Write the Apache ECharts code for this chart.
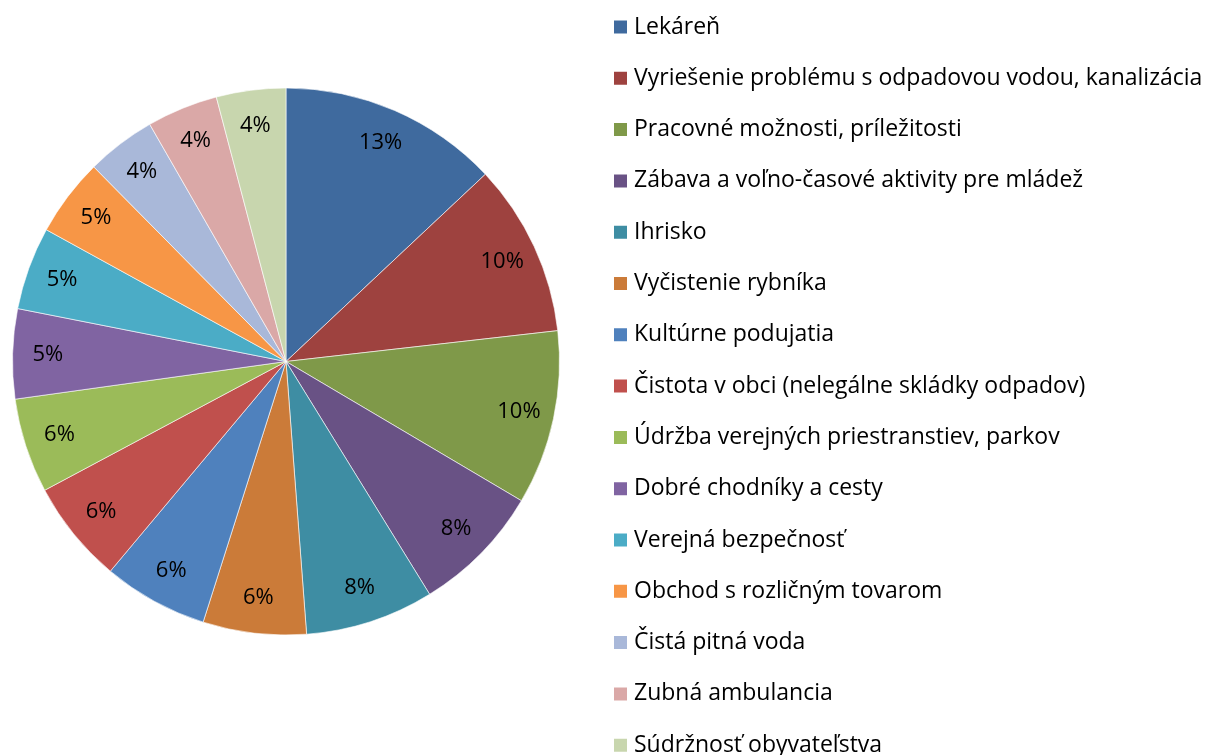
<!DOCTYPE html>
<html>
<head>
<meta charset="utf-8">
<script src="https://cdn.jsdelivr.net/npm/echarts@6/dist/echarts.min.js"></script>
<style>
  html, body { margin: 0; padding: 0; background: #fff; }
  #chart { width: 1211px; height: 755px; }
</style>
</head>
<body>
<div id="chart"></div>
<script>
const categories = [
  "Lekáreň",
  "Vyriešenie problému s odpadovou vodou, kanalizácia",
  "Pracovné možnosti, príležitosti",
  "Zábava a voľno-časové aktivity pre mládež",
  "Ihrisko",
  "Vyčistenie rybníka",
  "Kultúrne podujatia",
  "Čistota v obci (nelegálne skládky odpadov)",
  "Údržba verejných priestranstiev, parkov",
  "Dobré chodníky a cesty",
  "Verejná bezpečnosť",
  "Obchod s rozličným tovarom",
  "Čistá pitná voda",
  "Zubná ambulancia",
  "Súdržnosť obyvateľstva",
];
const values = [13.0, 10.2, 10.3, 7.7, 7.6, 6.1, 6.2, 6.1, 5.6, 5.3, 4.9, 4.6, 4.1, 4.2, 4.1];
const palette = [
  "#3F6A9E", "#9E423F", "#7F9949", "#695285", "#3E8DA3", "#CB7B39",
  "#4F81BD", "#C0504D", "#9BBB59", "#8064A2", "#4BACC6", "#F79646",
  "#A9B8D9", "#DAA8A7", "#C8D6AE",
];

const FONT = "'Open Sans', sans-serif";
const pieData = categories.map((name, i) => ({ name, value: values[i] }));
const R = 273.5;

const chart = echarts.init(document.getElementById("chart"), null, { renderer: "canvas" });
chart.setOption({
  animation: false,
  color: palette,
  legend: {
    orient: "vertical",
    left: 612,
    top: 15,
    height: 800,
    padding: 0,
    itemWidth: 15,
    itemHeight: 15,
    itemGap: 27.3,
    icon: "rect",
    data: categories,
    textStyle: { fontFamily: FONT, fontSize: 23, color: "#000", lineHeight: 24, padding: [0, 0, 0, 1] },
  },
  series: [
    {
      name: "main",
      type: "pie",
      center: [286, 361.5],
      radius: [0, R],
      startAngle: 90,
      clockwise: true,
      avoidLabelOverlap: false,
      silent: true,
      data: pieData,
      itemStyle: { borderColor: "#fff", borderWidth: 0.6 },
      label: { show: false },
      labelLine: { show: false },
    },
    {
      name: "labels",
      type: "pie",
      center: [286, 361.5],
      radius: [R * 0.72, R],
      startAngle: 90,
      clockwise: true,
      avoidLabelOverlap: false,
      silent: true,
      legendHoverLink: false,
      data: pieData,
      itemStyle: { color: "transparent", borderWidth: 0 },
      label: {
        show: true,
        position: "inside",
        fontFamily: FONT,
        fontSize: 22,
        color: "#000",
        formatter: (p) => Math.round(p.percent) + "%",
      },
      labelLine: { show: false },
    },
  ],
});
</script>
</body>
</html>
